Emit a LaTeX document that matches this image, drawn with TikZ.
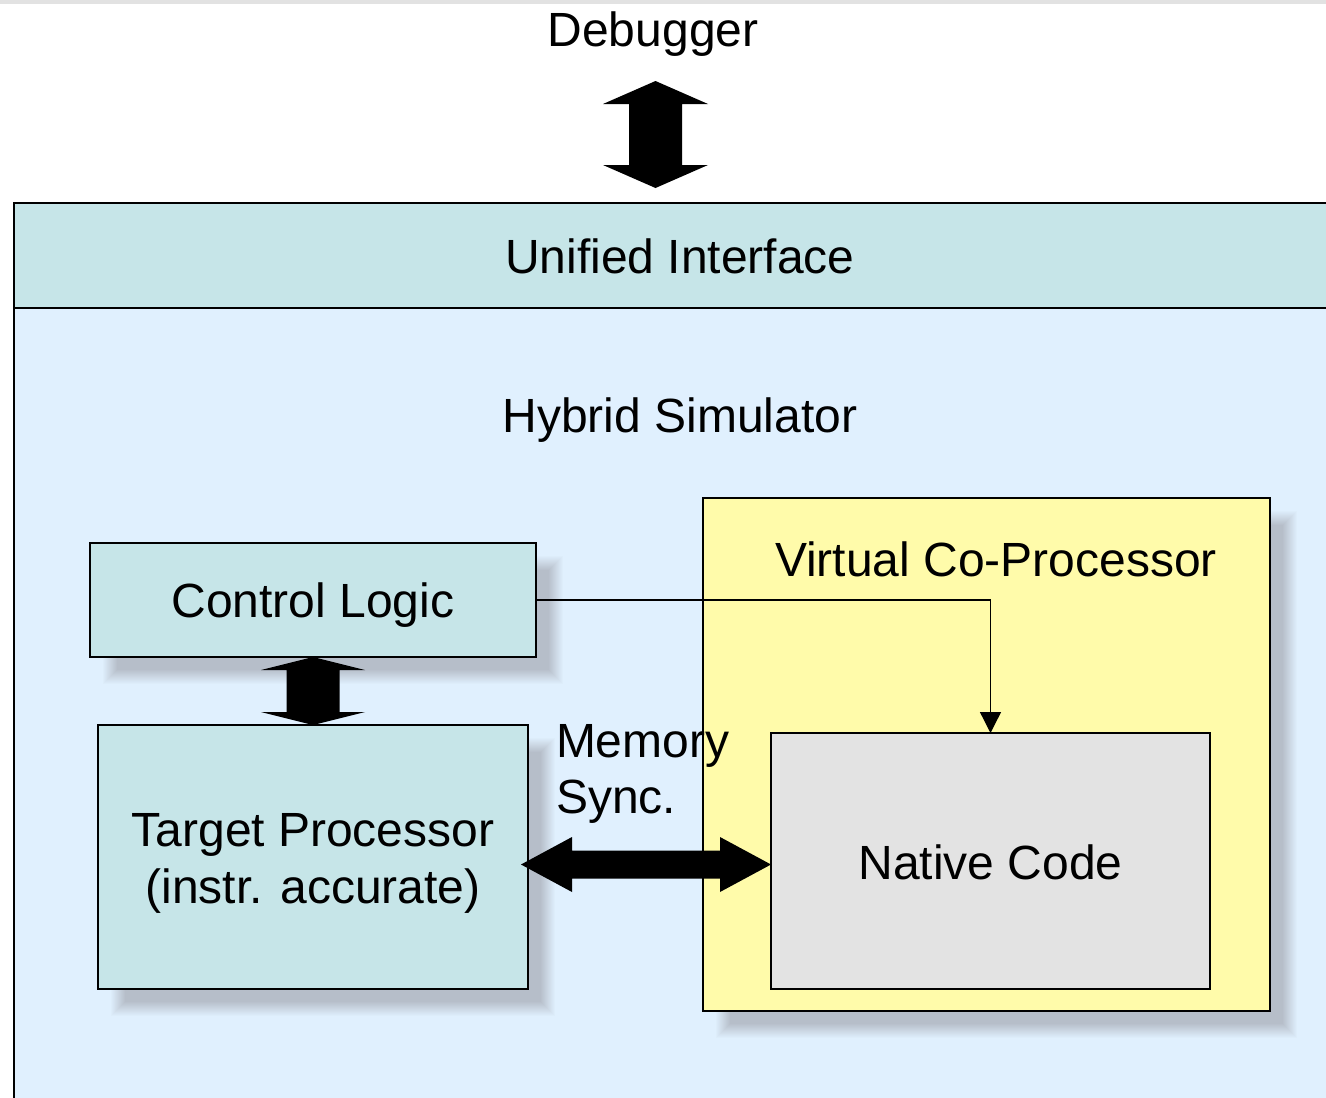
\documentclass[tikz,border=0pt]{standalone}
\usepackage{fontspec}
\setmainfont{Liberation Sans}
\usetikzlibrary{arrows.meta,calc}
\definecolor{ifacefill}{HTML}{C6E5E8}
\definecolor{simfill}{HTML}{E0F0FE}
\definecolor{vcpfill}{HTML}{FFFBAA}
\definecolor{nativefill}{HTML}{E3E3E3}
\definecolor{topband}{HTML}{E2E2E2}
\definecolor{shadowc}{HTML}{B6BEC9}

\pgfdeclarelayer{frame}
\pgfdeclarelayer{shade}
\pgfsetlayers{frame,shade,main}

% Block double arrow, vertical: #1 top tip, #2 bottom tip,
% #3 head half-width, #4 head length, #5 shaft half-width
\newcommand\fatvarrow[5]{%
  \fill (#1) -- ($(#1)+(#3,#4)$) -- ($(#1)+(#5,#4)$) -- ($(#2)+(#5,-#4)$)
    -- ($(#2)+(#3,-#4)$) -- (#2) -- ($(#2)+(-#3,-#4)$) -- ($(#2)+(-#5,-#4)$)
    -- ($(#1)+(-#5,#4)$) -- ($(#1)+(-#3,#4)$) -- cycle;}
% Block double arrow, horizontal: #1 left tip, #2 right tip,
% #3 head half-height, #4 head length, #5 shaft half-height
\newcommand\fatharrow[5]{%
  \fill (#1) -- ($(#1)+(#4,-#3)$) -- ($(#1)+(#4,-#5)$) -- ($(#2)+(-#4,-#5)$)
    -- ($(#2)+(-#4,-#3)$) -- (#2) -- ($(#2)+(-#4,#3)$) -- ($(#2)+(-#4,#5)$)
    -- ($(#1)+(#4,#5)$) -- ($(#1)+(#4,#3)$) -- cycle;}
% Soft drop shadow under a named box: nested opaque rectangles,
% offset 20 down-right, fading over 14 units into the simulator fill
\newcommand\boxshade[1]{%
  \foreach \shk in {0,...,14}{%
    \pgfmathsetmacro\shlo{13+\shk}%
    \pgfmathsetmacro\shhi{27-\shk}%
    \pgfmathsetmacro\shp{(\shk+1)*100/15}%
    \fill[shadowc!\shp!simfill] ($(#1.north west)+(\shlo,\shlo)$)
      rectangle ($(#1.south east)+(\shhi,\shhi)$);}}

\begin{document}
\begin{tikzpicture}[x=1pt,y=-1pt,
  every node/.style={font=\fontsize{48}{58}\selectfont, inner sep=0pt, outer sep=0pt},
  box/.style={draw=black, line width=1.8pt, rectangle},
  txt/.style={anchor=base, text=black},
  ctrl/.style={line width=1.3pt, -{Triangle[width=21pt,length=21pt]}}]

\path[use as bounding box] (0,0) rectangle (1326,1098);
\clip (0,0) rectangle (1326,1098);

\begin{pgfonlayer}{frame}
\fill[topband] (0,0) rectangle (1326,3.5);
% outer simulator frame and interface band
\node[box, fill=simfill, minimum width=1332pt, minimum height=812pt] (sim) at (680,714) {};
\node[box, fill=ifacefill, minimum width=1332pt, minimum height=105pt] (iface) at (680,255.5) {};
\end{pgfonlayer}

\node[txt] (ifacetext) at (680,273) {Unified Interface};
\node[txt] (simtext) at (680,432) {Hybrid Simulator};
\node[txt] (dbg) at (653,46) {Debugger};

% inner blocks
\node[box, fill=ifacefill, minimum width=446pt, minimum height=114pt] (ctl) at (313,600) {};
\node[txt] (ctltext) at (313,617) {Control Logic};
\node[box, fill=ifacefill, minimum width=430pt, minimum height=264pt] (tgt) at (313,857) {};
\node[txt] (tgttext) at (313,846) {Target Processor};
\node[txt] (tgttext2) at (313,903) {(instr. accurate)};
\node[box, fill=vcpfill, minimum width=567pt, minimum height=513pt] (vcp) at (986.5,754.5) {};
\node[txt] (vcptext) at (996,576) {Virtual Co-Processor};
\node[box, fill=nativefill, minimum width=439pt, minimum height=256pt] (nat) at (990.5,861) {};
\node[txt] (nattext) at (990.5,879) {Native Code};
\node[txt, anchor=base west] (memtext) at (556,757) {Memory};
\node[txt, anchor=base west] (synctext) at (556,813) {Sync.};

\begin{pgfonlayer}{shade}
\boxshade{ctl}
\boxshade{tgt}
\boxshade{vcp}
\end{pgfonlayer}

% block arrows
\coordinate (dbgend) at (655.5,81);
\coordinate (ifaceend) at (655.5,188);
\fatvarrow{dbgend}{ifaceend}{52.5}{23}{26.5}
\fatvarrow{ctl.south}{tgt.north}{52}{13}{26.5}
\coordinate (msl) at (521,864.5);
\coordinate (msr) at (nat.west |- msl);
\fatharrow{msl}{msr}{27.5}{51}{14}

% control path into native code
\draw[ctrl] (ctl.east) -| (nat.north);
\end{tikzpicture}
\end{document}
